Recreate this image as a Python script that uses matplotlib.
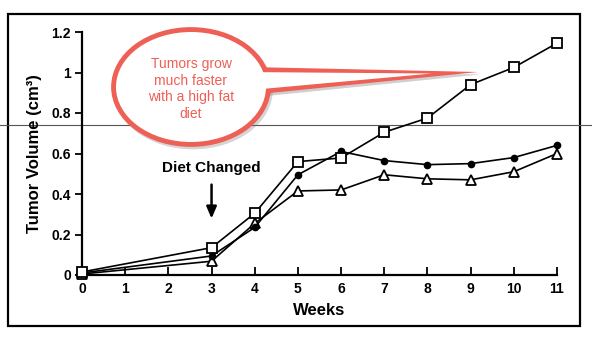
import matplotlib
matplotlib.use("Agg")
import matplotlib.pyplot as plt
from matplotlib.patches import Ellipse, Polygon, Rectangle
import numpy as np

plt.rcParams["font.family"] = ["Liberation Sans", "DejaVu Sans"]

# data
weeks = [0, 3, 4, 5, 6, 7, 8, 9, 10, 11]
high_fat = [0.015, 0.135, 0.305, 0.56, 0.578, 0.705, 0.775, 0.94, 1.025, 1.145]
group_dot = [0.01, 0.094, 0.235, 0.495, 0.61, 0.565, 0.545, 0.55, 0.58, 0.64]
group_tri = [0.005, 0.068, 0.255, 0.415, 0.42, 0.495, 0.475, 0.47, 0.51, 0.60]
x_ticks = list(range(12))
y_ticks = [0, 0.2, 0.4, 0.6, 0.8, 1.0, 1.2]
y_labels = ["0", "0.2", "0.4", "0.6", "0.8", "1", "1.2"]
note = "Tumors grow\nmuch faster\nwith a high fat\ndiet"

W, H = 592, 338
fig = plt.figure(figsize=(W / 100, H / 100), dpi=100)

# pixel overlay for the frame and the callout
ov = fig.add_axes([0, 0, 1, 1], zorder=3)
ov.set_xlim(0, W)
ov.set_ylim(H, 0)
ov.axis("off")
ov.patch.set_alpha(0)

ax = fig.add_axes([82 / W, 1 - 275 / H, 475 / W, 243 / H], zorder=2)
ax.patch.set_alpha(0)

# scanner line and outer frame
bg = fig.add_axes([0, 0, 1, 1], zorder=1)
bg.set_xlim(0, W)
bg.set_ylim(H, 0)
bg.axis("off")
bg.plot([0, W], [125, 125], color="#555555", lw=0.8)
bg.add_patch(Rectangle((8, 14), 572, 312, fill=False, ec="black", lw=1.6))

lw = 1.2
ax.plot(weeks, group_tri, "-^", color="black", lw=lw, ms=7, mfc="white",
        mew=1.3, clip_on=False, zorder=3)
ax.plot(weeks, group_dot, "-o", color="black", lw=lw, ms=4.5, mfc="black",
        clip_on=False, zorder=4)
ax.plot(weeks, high_fat, "-s", color="black", lw=lw, ms=7.5, mfc="white",
        mew=1.3, clip_on=False, zorder=5)

ax.set_xlim(0, 11)
ax.set_ylim(0, 1.2)
for s in ["top", "right"]:
    ax.spines[s].set_visible(False)
for s in ["left", "bottom"]:
    ax.spines[s].set_linewidth(1.6)
ax.set_xticks(x_ticks)
ax.set_yticks(y_ticks)
ax.set_yticklabels(y_labels)
ax.tick_params(axis="x", direction="in", length=6, width=1.3, labelsize=10, pad=5)
ax.tick_params(axis="y", direction="out", length=5, width=1.3, labelsize=10, pad=3)
for t in ax.get_xticklabels() + ax.get_yticklabels():
    t.set_fontweight("bold")
ax.set_xlabel("Weeks", fontsize=12, fontweight="bold", labelpad=5)
ax.set_ylabel("Tumor Volume (cm³)", fontsize=12, fontweight="bold", labelpad=7)

ax.annotate("", xy=(3, 0.265), xytext=(3, 0.46),
            arrowprops=dict(arrowstyle="-|>,head_width=0.3,head_length=0.7",
                            color="black", lw=1.8))
ax.text(3, 0.53, "Diet Changed", ha="center", va="center",
        fontsize=11, fontweight="bold")

# callout bubble
red = "#ee5f55"
cx, cy, ew, eh = 191, 87, 150, 110
tail_out = [(250, 67), (478, 72), (250, 95)]
tail_in = [(240, 72), (432, 73.5), (240, 91)]
ov.add_patch(Polygon([(x + 2, y + 2.5) for x, y in tail_out], closed=True,
                     fc="#777777", ec="none", alpha=0.35))
ov.add_patch(Ellipse((cx + 2, cy + 2.5), ew, eh, fc="none", ec="#777777",
                     lw=7, alpha=0.3))
ov.add_patch(Ellipse((cx, cy), ew, eh, fc=red, ec=red, lw=7))
ov.add_patch(Polygon(tail_out, closed=True, fc=red, ec="none"))
ov.add_patch(Ellipse((cx, cy), ew, eh, fc="white", ec="none"))
ov.add_patch(Polygon(tail_in, closed=True, fc="white", ec="none"))
ov.text(cx, 89, note, ha="center", va="center", color=red, fontsize=10,
        linespacing=1.25)

fig.savefig("out.png", dpi=100)
